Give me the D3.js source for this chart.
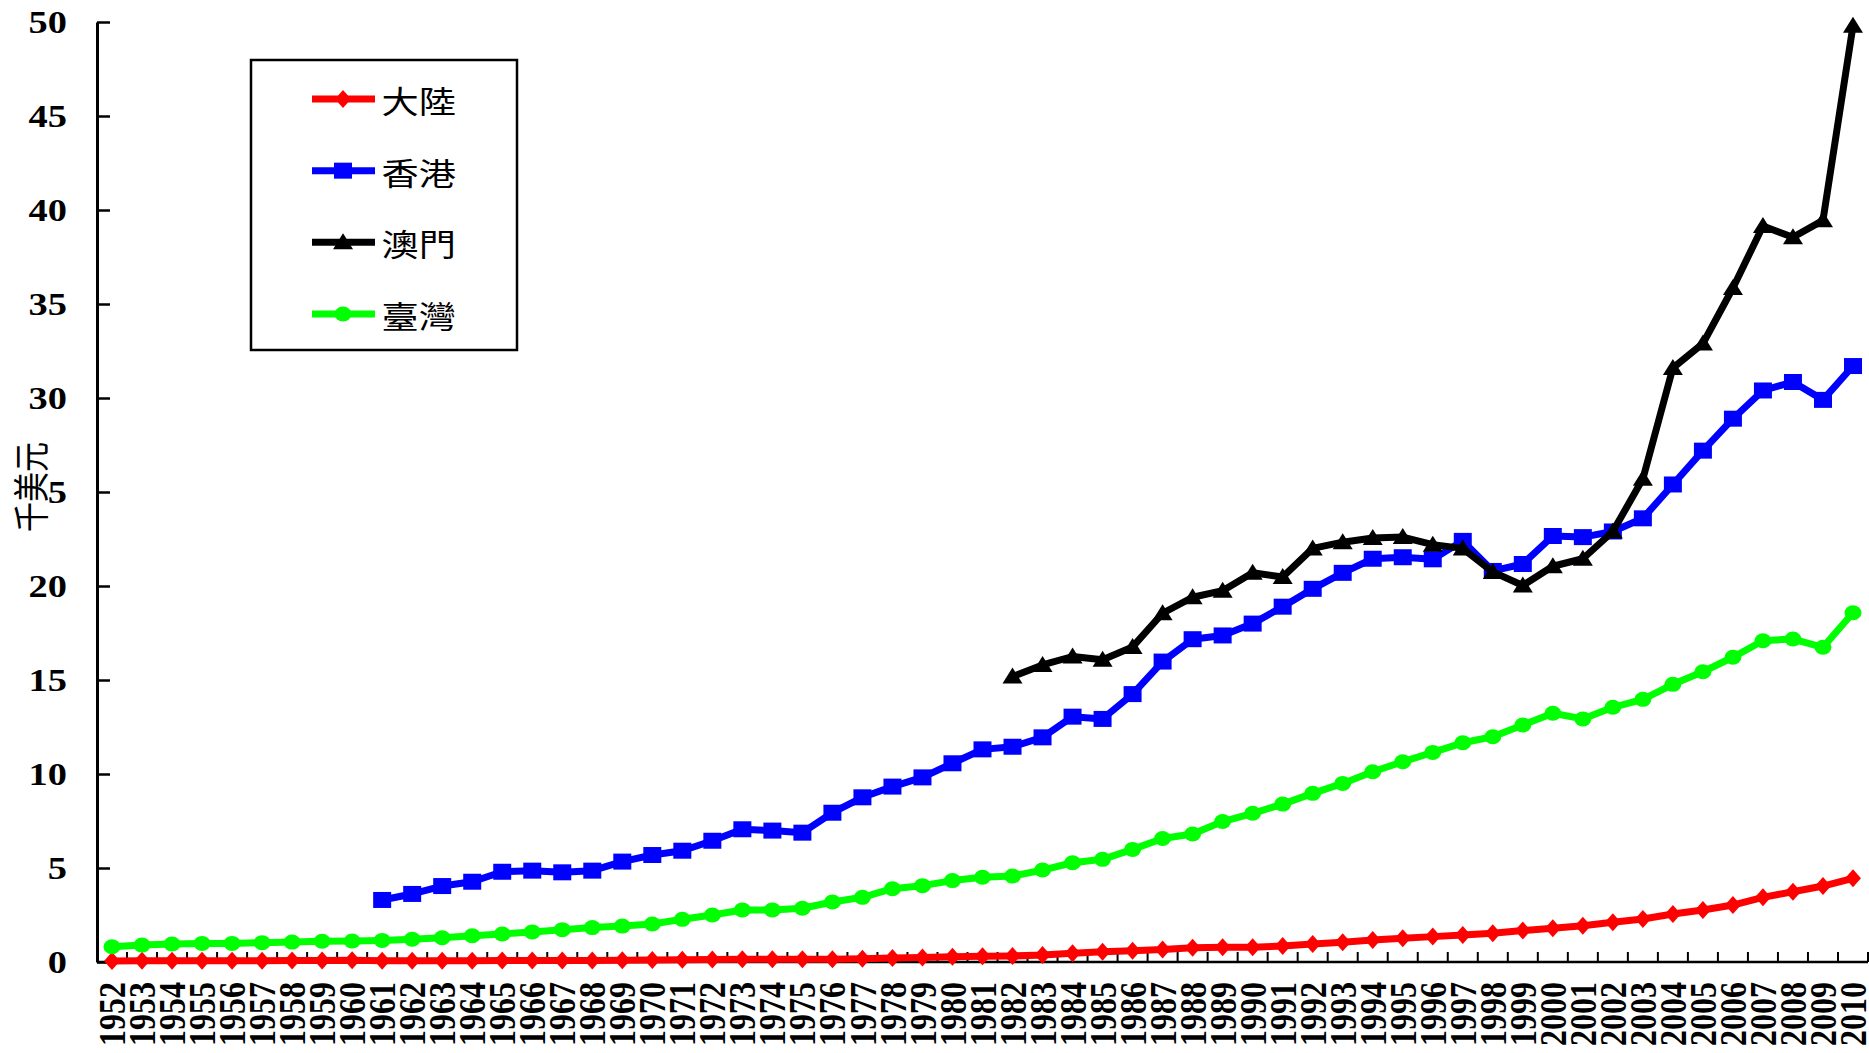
<!DOCTYPE html>
<html>
<head>
<meta charset="utf-8">
<script src="https://cdn.jsdelivr.net/npm/d3@7"></script>
<style type="text/css">
	body {
		margin: 0;
		background-color: #fff;
	}
	.num {
		font-family: "Liberation Serif", "Times New Roman", serif;
		font-weight: bold;
		font-size: 32px;
	}
	.cjk {
		font-family: "Noto Sans CJK TC", "Noto Sans CJK SC", sans-serif;
	}
</style>
</head>
<body>
<div id="chart"></div>
<script>
// categories
var years = [1952,1953,1954,1955,1956,1957,1958,1959,1960,
	1961,1962,1963,1964,1965,1966,1967,1968,1969,
	1970,1971,1972,1973,1974,1975,1976,1977,1978,1979,
	1980,1981,1982,1983,1984,1985,1986,1987,1988,1989,
	1990,1991,1992,1993,1994,1995,1996,1997,1998,1999,
	2000,2001,2002,2003,2004,2005,2006,2007,2008,2009,2010];

var yTicks = [0,5,10,15,20,25,30,35,40,45,50];

// thousand USD per head
var mainland = [0.05,0.06,0.06,0.06,0.07,0.07,0.08,0.08,0.09,
	0.06,0.06,0.06,0.07,0.08,0.08,0.08,0.08,0.09,
	0.11,0.12,0.13,0.14,0.14,0.15,0.15,0.17,0.21,0.24,
	0.28,0.30,0.32,0.37,0.46,0.55,0.60,0.67,0.76,0.78,
	0.78,0.85,0.96,1.05,1.17,1.26,1.35,1.44,1.53,1.67,
	1.79,1.93,2.11,2.29,2.55,2.77,3.03,3.44,3.74,4.04,4.45];

var hongkong = [null,null,null,null,null,null,null,null,null,
	3.30,3.62,4.04,4.27,4.80,4.86,4.77,4.86,5.34,
	5.69,5.92,6.45,7.06,6.99,6.88,7.94,8.76,9.33,9.82,
	10.57,11.31,11.45,11.95,13.05,12.93,14.25,15.98,17.17,17.37,
	18.00,18.90,19.85,20.70,21.45,21.53,21.42,22.40,20.80,21.17,
	22.66,22.60,22.90,23.60,25.40,27.20,28.90,30.40,30.85,29.90,31.70];

var macau = [null,null,null,null,null,null,null,null,null,
	null,null,null,null,null,null,null,null,null,
	null,null,null,null,null,null,null,null,null,null,
	null,null,15.18,15.80,16.25,16.08,16.76,18.55,19.40,19.75,
	20.70,20.48,22.00,22.33,22.55,22.60,22.20,22.00,20.75,20.03,
	21.05,21.45,22.90,25.70,31.60,32.90,35.85,39.15,38.55,39.45,49.80];

var taiwan = [0.81,0.90,0.96,0.99,0.99,1.03,1.06,1.10,1.12,
	1.15,1.21,1.29,1.40,1.49,1.60,1.72,1.83,1.91,
	2.02,2.27,2.50,2.77,2.77,2.86,3.19,3.44,3.90,4.06,
	4.33,4.51,4.57,4.89,5.28,5.46,5.99,6.57,6.81,7.47,
	7.91,8.40,8.97,9.50,10.12,10.65,11.15,11.66,11.98,12.61,
	13.23,12.93,13.55,13.97,14.77,15.44,16.21,17.09,17.18,16.74,18.58];

var seriesNames = ["大陸","香港","澳門","臺灣"];
var seriesColors = ["#ff0000","#0000ff","#000000","#00ff00"];
var seriesShapes = ["diamond","square","triangle","circle"];
var seriesValues = [mainland, hongkong, macau, taiwan];

var W = 1869, H = 1053;
var plotL = 97, plotR = 1868, plotT = 22, plotB = 962;
var stretch = "scale(1.2,1)"; // the original text is wider than it is tall

var svg = d3.select("#chart").append("svg")
	.attr("width", W)
	.attr("height", H)
	.style("display", "block");

var x = d3.scaleBand().domain(years).range([plotL, plotR]).paddingInner(0).paddingOuter(0);
var y = d3.scaleLinear().domain([0, 50]).range([plotB, plotT]);

function cx(yr) { return x(yr) + x.bandwidth() / 2; }

// marker paths, centered on 0,0
function markerPath(shape) {
	if (shape == "diamond") return "M0,-9L8,0L0,9L-8,0Z";
	if (shape == "square") return "M-9,-8H9V8H-9Z";
	if (shape == "triangle") return "M0,-9L10,7H-10Z";
	return null;
}

function drawMarker(g, shape, color) {
	if (shape == "circle") {
		g.append("ellipse").attr("rx", 8.5).attr("ry", 7.5).attr("fill", color);
	} else {
		g.append("path").attr("d", markerPath(shape)).attr("fill", color);
	}
}

// y axis
var yAxis = svg.append("g")
	.attr("transform", "translate(" + plotL + ",0)")
	.call(d3.axisLeft(y).tickValues(yTicks).tickSizeInner(-13).tickSizeOuter(0).tickFormat(d3.format("d")));
yAxis.select(".domain").attr("stroke", "#000").attr("stroke-width", 3);
yAxis.selectAll(".tick line").attr("stroke", "#000").attr("stroke-width", 2.5);
yAxis.selectAll(".tick text")
	.attr("class", "num")
	.attr("x", -25)
	.attr("dy", "0.34em")
	.attr("fill", "#000")
	.attr("transform", stretch);

// x axis labels
var xAxis = svg.append("g")
	.attr("transform", "translate(0," + plotB + ")")
	.call(d3.axisBottom(x).tickSize(0));
xAxis.select(".domain").remove();
xAxis.selectAll(".tick text")
	.attr("class", "num")
	.attr("fill", "#000")
	.attr("text-anchor", "end")
	.attr("x", -20)
	.attr("y", 0)
	.attr("dy", "0.34em")
	.attr("transform", stretch + " rotate(-90)");

// x axis line + ticks between categories (pointing inward)
var edges = years.map(function(d) { return x(d); }).concat([plotR]);
svg.append("g").selectAll("line.xt")
	.data(edges)
	.enter().append("line")
	.attr("x1", function(d) { return d; })
	.attr("x2", function(d) { return d; })
	.attr("y1", plotB)
	.attr("y2", plotB - 10)
	.attr("stroke", "#000")
	.attr("stroke-width", 2);
svg.append("line")
	.attr("x1", plotL).attr("x2", plotR)
	.attr("y1", plotB).attr("y2", plotB)
	.attr("stroke", "#000").attr("stroke-width", 2.5);

// y title, with white behind it like the original
var title = svg.append("g").attr("transform", "translate(32,487)");
title.append("rect")
	.attr("x", -17).attr("y", -46)
	.attr("width", 34).attr("height", 92)
	.attr("fill", "#fff");
title.append("text")
	.attr("class", "cjk")
	.attr("font-size", 30)
	.attr("text-anchor", "middle")
	.attr("dy", "0.36em")
	.attr("transform", stretch + " rotate(-90)")
	.text("千美元");

// series
var line = d3.line()
	.defined(function(d) { return d.v != null; })
	.x(function(d) { return cx(d.year); })
	.y(function(d) { return y(d.v); });

seriesValues.forEach(function(vals, s) {
	var pts = years.map(function(yr, i) { return {year: yr, v: vals[i]}; });
	var g = svg.append("g");
	g.append("path")
		.datum(pts)
		.attr("d", line)
		.attr("fill", "none")
		.attr("stroke", seriesColors[s])
		.attr("stroke-width", 7)
		.attr("stroke-linejoin", "round");
	g.selectAll("g.m")
		.data(pts.filter(function(d) { return d.v != null; }))
		.enter().append("g")
		.attr("class", "m")
		.attr("transform", function(d) { return "translate(" + cx(d.year) + "," + y(d.v) + ")"; })
		.each(function() { drawMarker(d3.select(this), seriesShapes[s], seriesColors[s]); });
});

// legend
var legend = svg.append("g");
legend.append("rect")
	.attr("x", 251).attr("y", 60)
	.attr("width", 266).attr("height", 290)
	.attr("fill", "#fff")
	.attr("stroke", "#000")
	.attr("stroke-width", 2.5);

var rowY = d3.scalePoint().domain(seriesNames).range([99, 314]);
seriesNames.forEach(function(name, i) {
	var row = legend.append("g").attr("transform", "translate(0," + rowY(name) + ")");
	row.append("line")
		.attr("x1", 312).attr("x2", 375)
		.attr("stroke", seriesColors[i])
		.attr("stroke-width", 7);
	var m = row.append("g").attr("transform", "translate(343,0)");
	drawMarker(m, seriesShapes[i], seriesColors[i]);
	row.append("text")
		.attr("class", "cjk")
		.attr("font-size", 31)
		.attr("x", 318)
		.attr("y", 3)
		.attr("dy", "0.35em")
		.attr("transform", stretch)
		.attr("fill", "#000")
		.text(name);
});
</script>
</body>
</html>
